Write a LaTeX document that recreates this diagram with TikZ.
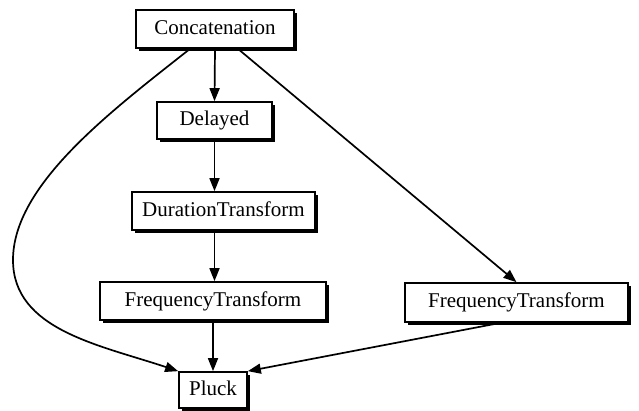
\documentclass[tikz,border=0pt]{standalone}
\usepackage{fontspec}
\setmainfont{Liberation Serif}
\usetikzlibrary{arrows.meta,shadows}
\begin{document}
\begin{tikzpicture}[x=1pt,y=-1pt,
  box/.style={draw=black,fill=white,line width=1.7pt,inner sep=0pt,
    font=\fontsize{21}{23}\selectfont,text height=14.5pt,text depth=4.5pt,
    drop shadow={shadow xshift=3pt,shadow yshift=-3pt,fill=black,opacity=1}},
  arr/.style={line width=1.7pt,-{Triangle[length=13pt,width=10pt]}}]
\useasboundingbox (0,0) rectangle (639,410);
\node[box,minimum width=158pt,minimum height=38pt] (concat) at (215,29) {Concatenation};
\node[box,minimum width=115pt,minimum height=37pt] (delayed) at (214.5,120.5) {Delayed};
\node[box,minimum width=183pt,minimum height=38pt] (dur) at (223.5,211) {DurationTransform};
\node[box,minimum width=226pt,minimum height=38pt] (freql) at (213,301) {FrequencyTransform};
\node[box,minimum width=68pt,minimum height=36pt] (pluck) at (213,390) {Pluck};
\node[box,minimum width=223pt,minimum height=39pt] (freqr) at (516.5,302.5) {FrequencyTransform};
\draw[arr] (concat.south) -- (delayed.north);
\draw[arr] (delayed.south) -- (delayed.south |- dur.north);
\draw[arr] (delayed.south |- dur.south) -- (delayed.south |- freql.north);
\draw[arr] (freql.south) -- (pluck.north);
\draw[arr] ([xshift=23pt]concat.south) -- (freqr.north);
\draw[arr] ([xshift=-16pt]freqr.south) -- (pluck.north east);
\draw[arr] ([xshift=-25pt]concat.south) .. controls (110,112) and (13,185) .. (13,260)
  .. controls (13,330) and (100,345) .. (pluck.north west);
\end{tikzpicture}
\end{document}
